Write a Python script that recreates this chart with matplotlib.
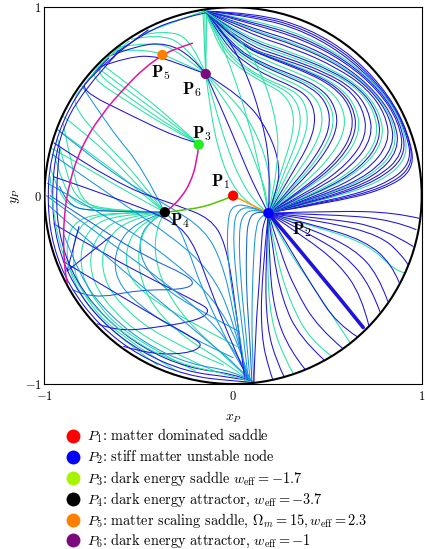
import matplotlib.pyplot as plt
from matplotlib.lines import Line2D
from matplotlib.patches import Circle, PathPatch
from matplotlib.path import Path

plt.rcParams['mathtext.fontset'] = 'cm'
plt.rcParams['font.family'] = 'serif'
plt.rcParams['font.serif'] = ['cmr10', 'DejaVu Serif']
plt.rcParams['axes.formatter.use_mathtext'] = True

# fixed points P1..P6 in compactified coordinates (x_P, y_P)
pt_x = [0.0, 0.187, -0.182, -0.362, -0.375, -0.145]
pt_y = [0.0, -0.093, 0.271, -0.088, 0.747, 0.646]
pt_colors = ['#ff0000', '#0000ff', '#22ee22', '#000000', '#ff8000', '#7d0a7d']
legend_colors = ['#ff0000', '#0000ff', '#a6f500', '#000000', '#ff8000', '#7d0a7d']
pt_names = [r'$\mathbf{P}_{\mathbf{%d}}$' % i for i in range(1, 7)]
label_offsets = [(-9, 10), (24, -12), (2, 8), (11, -6), (-1, -13), (-10, -11)]
legend_labels = [
    r'$P_1$: matter dominated saddle',
    r'$P_2$: stiff matter unstable node',
    r'$P_3$: dark energy saddle $w_{\mathrm{eff}} = -1.7$',
    r'$P_4$: dark energy attractor, $w_{\mathrm{eff}} = -3.7$',
    r'$P_5$: matter scaling saddle, $\Omega_m = 15, w_{\mathrm{eff}} = 2.3$',
    r'$P_6$: dark energy attractor, $w_{\mathrm{eff}} = -1$',
]

# special curves
magenta_outer = [(-0.216, 0.809), (-0.30, 0.782), (-0.375, 0.747), (-0.472, 0.676),
                 (-0.561, 0.588), (-0.702, 0.428), (-0.808, 0.252), (-0.870, 0.066),
                 (-0.897, -0.11), (-0.90, -0.287), (-0.888, -0.43), (-0.879, -0.464)]
magenta_inner = [(-0.182, 0.271), (-0.193, 0.172), (-0.228, 0.066), (-0.272, -0.005),
                 (-0.325, -0.061), (-0.362, -0.088)]
p4_to_p1 = [(-0.362, -0.088), (-0.228, -0.075), (-0.087, -0.040), (0.0, 0.0)]
p1_to_p2 = [(0.0, 0.0), (0.09, -0.045), (0.187, -0.093)]

# trajectories, grouped by region; colour codes b=blue, t=teal, c=cyan, m=mid blue
arcs = [
    [(0.19, -0.09), (0.5, -0.04), (0.8, 0.03), (0.965, 0.14), (0.93, 0.33), (0.83, 0.53), (0.64, 0.74), (0.40, 0.89), (0.12, 0.97), (-0.15, 0.98)],
    [(0.19, -0.09), (0.5, -0.035), (0.8, 0.04), (0.958, 0.155), (0.925, 0.34), (0.822, 0.53), (0.635, 0.73), (0.395, 0.88), (0.12, 0.96), (-0.15, 0.98)],
    [(0.19, -0.09), (0.5, -0.03), (0.79, 0.05), (0.95, 0.17), (0.915, 0.35), (0.815, 0.53), (0.63, 0.72), (0.39, 0.87), (0.12, 0.95), (-0.15, 0.98)],
    [(0.19, -0.09), (0.5, -0.02), (0.78, 0.07), (0.93, 0.2), (0.90, 0.38), (0.79, 0.56), (0.61, 0.72), (0.38, 0.85), (0.12, 0.93), (-0.15, 0.98)],
    [(0.19, -0.09), (0.5, -0.015), (0.77, 0.08), (0.918, 0.21), (0.89, 0.385), (0.78, 0.56), (0.603, 0.715), (0.375, 0.84), (0.115, 0.92), (-0.15, 0.98)],
    [(0.19, -0.09), (0.5, -0.01), (0.76, 0.09), (0.905, 0.22), (0.88, 0.39), (0.77, 0.56), (0.595, 0.71), (0.37, 0.83), (0.11, 0.91), (-0.15, 0.98)],
    [(0.19, -0.09), (0.5, 0.0), (0.75, 0.1), (0.88, 0.24), (0.86, 0.40), (0.75, 0.56), (0.58, 0.70), (0.36, 0.81), (0.10, 0.89), (-0.15, 0.98)],
    [(0.19, -0.09), (0.495, 0.002), (0.74, 0.108), (0.868, 0.25), (0.848, 0.408), (0.74, 0.563), (0.572, 0.695), (0.352, 0.80), (0.095, 0.882), (-0.15, 0.98)],
    [(0.19, -0.09), (0.49, 0.005), (0.73, 0.115), (0.855, 0.26), (0.835, 0.415), (0.73, 0.565), (0.565, 0.69), (0.345, 0.795), (0.09, 0.875), (-0.15, 0.98)],
    [(0.19, -0.09), (0.48, 0.01), (0.71, 0.13), (0.83, 0.28), (0.81, 0.43), (0.71, 0.57), (0.55, 0.68), (0.33, 0.78), (0.08, 0.86), (-0.15, 0.98)],
    [(0.19, -0.09), (0.465, 0.015), (0.685, 0.14), (0.80, 0.29), (0.78, 0.44), (0.685, 0.57), (0.53, 0.67), (0.315, 0.76), (0.07, 0.84), (-0.15, 0.98)],
    [(0.19, -0.09), (0.46, 0.017), (0.675, 0.145), (0.785, 0.295), (0.765, 0.445), (0.672, 0.57), (0.52, 0.665), (0.308, 0.75), (0.065, 0.83), (-0.15, 0.98)],
    [(0.19, -0.09), (0.45, 0.02), (0.66, 0.15), (0.77, 0.30), (0.75, 0.45), (0.66, 0.57), (0.51, 0.66), (0.30, 0.74), (0.06, 0.82), (-0.15, 0.98)],
    [(0.19, -0.09), (0.435, 0.025), (0.635, 0.16), (0.74, 0.31), (0.72, 0.455), (0.635, 0.57), (0.49, 0.655), (0.29, 0.73), (0.055, 0.805), (-0.15, 0.98)],
    [(0.19, -0.09), (0.42, 0.03), (0.61, 0.17), (0.71, 0.32), (0.69, 0.46), (0.61, 0.57), (0.47, 0.65), (0.28, 0.72), (0.05, 0.79), (-0.15, 0.98)],
    [(0.19, -0.09), (0.405, 0.04), (0.585, 0.185), (0.675, 0.335), (0.655, 0.47), (0.57, 0.575), (0.435, 0.65), (0.25, 0.72), (0.04, 0.795), (-0.15, 0.98)],
    [(0.19, -0.09), (0.398, 0.045), (0.572, 0.192), (0.657, 0.342), (0.637, 0.475), (0.55, 0.578), (0.418, 0.65), (0.235, 0.72), (0.035, 0.797), (-0.15, 0.98)],
    [(0.19, -0.09), (0.39, 0.05), (0.56, 0.20), (0.64, 0.35), (0.62, 0.48), (0.53, 0.58), (0.40, 0.65), (0.22, 0.72), (0.03, 0.80), (-0.15, 0.98)],
    [(0.19, -0.09), (0.375, 0.06), (0.53, 0.22), (0.60, 0.365), (0.575, 0.49), (0.49, 0.58), (0.36, 0.645), (0.19, 0.71), (0.015, 0.795), (-0.15, 0.98)],
    [(0.19, -0.09), (0.36, 0.07), (0.50, 0.24), (0.56, 0.38), (0.53, 0.50), (0.45, 0.58), (0.32, 0.64), (0.16, 0.70), (0.0, 0.79), (-0.15, 0.98)],
    [(0.19, -0.09), (0.35, 0.075), (0.485, 0.248), (0.54, 0.385), (0.51, 0.502), (0.428, 0.58), (0.30, 0.637), (0.145, 0.70), (-0.008, 0.792), (-0.15, 0.98)],
    [(0.19, -0.09), (0.34, 0.08), (0.47, 0.255), (0.52, 0.39), (0.49, 0.505), (0.405, 0.58), (0.28, 0.635), (0.13, 0.70), (-0.015, 0.795), (-0.15, 0.98)],
    [(0.19, -0.09), (0.32, 0.09), (0.44, 0.27), (0.48, 0.40), (0.45, 0.51), (0.36, 0.58), (0.24, 0.63), (0.10, 0.70), (-0.03, 0.80), (-0.15, 0.98)],
    [(0.19, -0.09), (0.305, 0.105), (0.41, 0.285), (0.44, 0.415), (0.405, 0.52), (0.315, 0.58), (0.195, 0.63), (0.07, 0.70), (-0.045, 0.805), (-0.15, 0.98)],
    [(0.19, -0.09), (0.29, 0.12), (0.38, 0.30), (0.40, 0.43), (0.36, 0.53), (0.27, 0.58), (0.15, 0.63), (0.04, 0.70), (-0.06, 0.81), (-0.15, 0.98)],
    [(0.19, -0.09), (0.275, 0.135), (0.35, 0.315), (0.36, 0.445), (0.31, 0.54), (0.215, 0.59), (0.105, 0.645), (0.0, 0.72), (-0.08, 0.83), (-0.15, 0.98)],
    [(0.19, -0.09), (0.26, 0.15), (0.32, 0.33), (0.32, 0.46), (0.26, 0.55), (0.16, 0.60), (0.06, 0.66), (-0.04, 0.74), (-0.10, 0.85), (-0.15, 0.98)],
]
arcs_colors = 'bbbtbbbtbbtbtbbtbbtbtbtbttt'

p6_fan = [
    [(-0.145, 0.646), (-0.12, 0.45), (-0.08, 0.25), (-0.02, 0.08), (0.08, -0.05), (0.187, -0.093)],
    [(-0.145, 0.646), (-0.09, 0.45), (-0.03, 0.25), (0.04, 0.08), (0.12, -0.04), (0.187, -0.093)],
    [(-0.145, 0.646), (-0.06, 0.46), (0.02, 0.27), (0.09, 0.10), (0.15, -0.02), (0.187, -0.093)],
    [(-0.145, 0.646), (-0.02, 0.48), (0.07, 0.30), (0.14, 0.12), (0.18, 0.0), (0.187, -0.093)],
    [(-0.145, 0.646), (0.02, 0.50), (0.13, 0.32), (0.19, 0.14), (0.20, 0.01), (0.187, -0.093)],
    [(-0.145, 0.646), (0.06, 0.52), (0.19, 0.34), (0.25, 0.16), (0.23, 0.02), (0.187, -0.093)],
    [(-0.15, 0.98), (-0.149, 0.82), (-0.145, 0.646)],
    [(-0.14, 0.985), (-0.142, 0.80), (-0.145, 0.646)],
    [(-0.16, 0.98), (-0.152, 0.80), (-0.145, 0.646)],
    [(-0.15, 0.98), (-0.08, 0.85), (0.0, 0.65), (0.08, 0.40), (0.14, 0.15), (0.187, -0.093)],
    [(-0.15, 0.98), (-0.05, 0.87), (0.06, 0.68), (0.15, 0.42), (0.20, 0.15), (0.187, -0.093)],
    [(-0.15, 0.98), (-0.02, 0.89), (0.12, 0.72), (0.22, 0.46), (0.25, 0.18), (0.187, -0.093)],
]
p6_fan_colors = 'ttbttbttttbt'

top_left = [
    [(-0.48, 0.86), (-0.35, 0.91), (-0.22, 0.955), (-0.15, 0.98)],
    [(-0.45, 0.87), (-0.32, 0.925), (-0.15, 0.98)],
    [(-0.62, 0.77), (-0.45, 0.78), (-0.30, 0.72), (-0.145, 0.646)],
    [(-0.60, 0.79), (-0.42, 0.82), (-0.28, 0.76), (-0.145, 0.646)],
    [(-0.54, 0.83), (-0.40, 0.86), (-0.25, 0.80), (-0.145, 0.646)],
    [(-0.50, 0.85), (-0.36, 0.88), (-0.22, 0.83), (-0.145, 0.646)],
    [(-0.72, 0.68), (-0.55, 0.74), (-0.40, 0.74), (-0.26, 0.69), (-0.145, 0.646)],
    [(-0.66, 0.74), (-0.50, 0.80), (-0.35, 0.81), (-0.22, 0.74), (-0.145, 0.646)],
    [(-0.62, 0.76), (-0.46, 0.87), (-0.30, 0.935), (-0.15, 0.97)],
]
top_left_colors = 'ttttttbbb'

to_p3 = [
    [(-0.55, 0.82), (-0.66, 0.74), (-0.74, 0.66), (-0.55, 0.52), (-0.35, 0.38), (-0.19, 0.28)],
    [(-0.72, 0.68), (-0.52, 0.53), (-0.33, 0.39), (-0.19, 0.28)],
    [(-0.60, 0.79), (-0.70, 0.70), (-0.76, 0.63), (-0.56, 0.50), (-0.36, 0.37), (-0.19, 0.28)],
    [(-0.70, 0.70), (-0.50, 0.55), (-0.32, 0.40), (-0.19, 0.28)],
    [(-0.66, 0.73), (-0.76, 0.63), (-0.81, 0.56), (-0.55, 0.43), (-0.30, 0.31), (-0.19, 0.28)],
]
to_p3_colors = 'ttttb'

to_p4 = [
    [(-0.93, 0.35), (-0.75, 0.22), (-0.55, 0.07), (-0.363, -0.088)],
    [(-0.70, 0.70), (-0.80, 0.58), (-0.86, 0.49), (-0.70, 0.30), (-0.52, 0.12), (-0.363, -0.088)],
    [(-0.96, 0.25), (-0.78, 0.15), (-0.58, 0.03), (-0.363, -0.088)],
    [(-0.80, 0.58), (-0.65, 0.35), (-0.48, 0.15), (-0.363, -0.088)],
    [(-0.90, 0.42), (-0.72, 0.28), (-0.55, 0.10), (-0.363, -0.088)],
    [(-0.93, 0.30), (-0.88, 0.10), (-0.82, -0.03), (-0.65, -0.08), (-0.363, -0.088)],
    [(-0.90, 0.38), (-0.85, 0.12), (-0.79, -0.05), (-0.62, -0.09), (-0.363, -0.088)],
    [(-0.97, 0.15), (-0.92, 0.0), (-0.84, -0.07), (-0.66, -0.085), (-0.363, -0.088)],
    [(-0.95, 0.22), (-0.90, 0.05), (-0.83, -0.05), (-0.64, -0.08), (-0.363, -0.088)],
    [(-0.40, -0.90), (-0.68, -0.70), (-0.86, -0.45), (-0.89, -0.25), (-0.83, -0.12), (-0.64, -0.09), (-0.363, -0.088)],
    [(-0.30, -0.93), (-0.62, -0.74), (-0.82, -0.50), (-0.86, -0.28), (-0.80, -0.13), (-0.62, -0.09), (-0.363, -0.088)],
    [(-0.20, -0.93), (-0.55, -0.76), (-0.77, -0.52), (-0.82, -0.32), (-0.76, -0.16), (-0.60, -0.10), (-0.363, -0.088)],
    [(-0.10, -0.93), (-0.45, -0.78), (-0.70, -0.55), (-0.77, -0.36), (-0.72, -0.20), (-0.58, -0.11), (-0.363, -0.088)],
    [(-0.05, -0.90), (-0.38, -0.76), (-0.62, -0.56), (-0.70, -0.40), (-0.68, -0.24), (-0.55, -0.12), (-0.363, -0.088)],
    [(0.0, -0.86), (-0.30, -0.72), (-0.54, -0.55), (-0.63, -0.42), (-0.62, -0.27), (-0.52, -0.14), (-0.363, -0.088)],
    [(0.02, -0.80), (-0.25, -0.66), (-0.46, -0.53), (-0.56, -0.42), (-0.57, -0.28), (-0.50, -0.15), (-0.363, -0.088)],
    [(0.03, -0.72), (-0.20, -0.60), (-0.38, -0.48), (-0.48, -0.36), (-0.50, -0.24), (-0.45, -0.14), (-0.363, -0.088)],
    [(-0.92, 0.05), (-0.88, -0.05), (-0.75, -0.085), (-0.363, -0.088)],
]
to_p4_colors = 'tttcttttttttttctcm'

lower_left = [
    [(-0.363, -0.088), (-0.44, -0.13), (-0.50, -0.25), (-0.50, -0.42), (-0.42, -0.60), (-0.25, -0.76), (-0.05, -0.88), (0.10, -0.99)],
    [(-0.363, -0.088), (-0.40, -0.15), (-0.42, -0.30), (-0.37, -0.48), (-0.25, -0.66), (-0.08, -0.82), (0.10, -0.99)],
    [(-0.363, -0.088), (-0.30, -0.14), (-0.24, -0.28), (-0.17, -0.48), (-0.06, -0.72), (0.05, -0.92), (0.10, -0.99)],
    [(-0.95, -0.15), (-0.70, -0.30), (-0.40, -0.46), (-0.18, -0.57), (-0.12, -0.61), (-0.18, -0.66), (-0.40, -0.70), (-0.62, -0.72), (-0.72, -0.68)],
    [(-0.90, -0.35), (-0.65, -0.50), (-0.40, -0.65), (-0.20, -0.76), (-0.16, -0.80), (-0.25, -0.84), (-0.45, -0.84), (-0.58, -0.80)],
    [(-0.97, 0.0), (-0.70, -0.18), (-0.45, -0.33), (-0.25, -0.42), (-0.20, -0.47), (-0.28, -0.50), (-0.50, -0.50), (-0.75, -0.55), (-0.85, -0.50)],
    [(-0.98, -0.05), (-0.70, -0.30), (-0.40, -0.55), (-0.15, -0.76), (0.02, -0.90), (0.10, -0.99)],
    [(-0.99, 0.0), (-0.65, -0.25), (-0.35, -0.47), (-0.12, -0.66), (0.03, -0.85), (0.10, -0.99)],
    [(-0.985, 0.066), (-0.58, -0.16), (-0.30, -0.36), (-0.10, -0.55), (0.03, -0.78), (0.09, -0.99)],
    [(-0.96, 0.22), (-0.62, -0.02), (-0.32, -0.22), (-0.12, -0.40), (0.0, -0.65), (0.08, -0.98)],
    [(-0.93, 0.35), (-0.65, 0.12), (-0.35, -0.05), (-0.15, -0.18), (-0.06, -0.35), (0.0, -0.60), (0.07, -0.97)],
    [(-0.95, 0.28), (-0.62, 0.06), (-0.30, -0.05), (-0.12, -0.12), (-0.04, -0.25), (0.01, -0.55), (0.06, -0.96)],
    [(-0.95, 0.10), (-0.60, -0.02), (-0.35, -0.12), (-0.22, -0.22), (-0.12, -0.50), (0.0, -0.80), (0.08, -0.98)],
    [(-0.88, -0.40), (-0.65, -0.217)],
    [(-0.88, -0.40), (-0.817, -0.164)],
    [(-0.45, 0.88), (-0.70, 0.70), (-0.87, 0.48), (-0.97, 0.20), (-0.985, -0.05), (-0.955, -0.27), (-0.87, -0.48), (-0.71, -0.69), (-0.50, -0.85), (-0.25, -0.955), (0.0, -0.985), (0.10, -0.99)],
    [(-0.60, 0.77), (-0.80, 0.56), (-0.93, 0.30), (-0.965, 0.0), (-0.935, -0.26), (-0.85, -0.47), (-0.70, -0.67), (-0.49, -0.83), (-0.25, -0.935), (0.0, -0.965), (0.10, -0.985)],
    [(-0.92, 0.25), (-0.945, 0.0), (-0.915, -0.25), (-0.83, -0.46), (-0.68, -0.65), (-0.48, -0.81), (-0.24, -0.915), (0.0, -0.945), (0.10, -0.985)],
    [(-0.90, -0.20), (-0.81, -0.44), (-0.66, -0.63), (-0.46, -0.79), (-0.23, -0.895), (0.0, -0.93), (0.10, -0.985)],
    [(-0.97, 0.10), (-0.95, -0.15), (-0.88, -0.38), (-0.75, -0.58), (-0.55, -0.76), (-0.30, -0.89), (0.0, -0.955), (0.10, -0.99)],
]
lower_left_colors = 'ttcbbmcccccbbbbbbbct'

p2_down = [
    [(0.187, -0.093), (0.10, -0.06), (0.03, -0.07), (0.00, -0.15), (0.01, -0.40), (0.05, -0.70), (0.08, -0.97)],
    [(0.187, -0.093), (0.11, -0.07), (0.05, -0.10), (0.03, -0.20), (0.04, -0.45), (0.07, -0.75), (0.09, -0.98)],
    [(0.187, -0.093), (0.12, -0.08), (0.08, -0.13), (0.07, -0.25), (0.07, -0.50), (0.09, -0.78), (0.10, -0.99)],
    [(0.187, -0.093), (0.14, -0.11), (0.12, -0.18), (0.11, -0.30), (0.10, -0.55), (0.10, -0.80), (0.11, -0.99)],
    [(0.187, -0.093), (0.16, -0.14), (0.15, -0.25), (0.14, -0.45), (0.12, -0.70), (0.11, -0.99)],
    [(0.187, -0.093), (0.08, -0.05), (0.0, -0.05), (-0.03, -0.12), (-0.03, -0.35), (0.02, -0.65), (0.07, -0.97)],
]
p2_down_colors = 'ccmcbc'

p2_right = [
    [(0.187, -0.093), (0.5, -0.12), (0.8, -0.17), (0.955, -0.27)],
    [(0.187, -0.093), (0.5, -0.14), (0.78, -0.21), (0.90, -0.32), (0.93, -0.37)],
    [(0.187, -0.093), (0.46, -0.17), (0.72, -0.26), (0.86, -0.40), (0.91, -0.41)],
    [(0.187, -0.093), (0.45, -0.16), (0.70, -0.24), (0.84, -0.36), (0.88, -0.46)],
    [(0.187, -0.093), (0.42, -0.18), (0.64, -0.28), (0.77, -0.42), (0.82, -0.56)],
    [(0.187, -0.093), (0.40, -0.20), (0.60, -0.32), (0.73, -0.48), (0.78, -0.62)],
    [(0.187, -0.093), (0.38, -0.22), (0.56, -0.36), (0.68, -0.53), (0.72, -0.69)],
    [(0.187, -0.093), (0.27, -0.26), (0.45, -0.52), (0.62, -0.78)],
    [(0.187, -0.093), (0.30, -0.28), (0.42, -0.48), (0.55, -0.68), (0.66, -0.75)],
    [(0.187, -0.093), (0.25, -0.30), (0.33, -0.50), (0.45, -0.70), (0.58, -0.81)],
    [(0.187, -0.093), (0.23, -0.33), (0.30, -0.56), (0.41, -0.77), (0.52, -0.85)],
    [(0.187, -0.093), (0.21, -0.30), (0.26, -0.55), (0.35, -0.75), (0.48, -0.87)],
    [(0.187, -0.093), (0.19, -0.35), (0.22, -0.62), (0.30, -0.82), (0.38, -0.92)],
    [(0.187, -0.093), (0.18, -0.38), (0.20, -0.66), (0.27, -0.86), (0.32, -0.945)],
    [(0.187, -0.093), (0.17, -0.40), (0.18, -0.70), (0.23, -0.88), (0.27, -0.96)],
    [(0.187, -0.093), (0.15, -0.45), (0.15, -0.75), (0.19, -0.92), (0.21, -0.975)],
    [(0.187, -0.093), (0.55, -0.10), (0.85, -0.13), (0.97, -0.18)],
    [(0.187, -0.093), (0.55, -0.08), (0.86, -0.09), (0.985, -0.12)],
]
p2_right_colors = 'bbtbbbbtbbtbbtbbbb'
p2_bundle = [(0.187, -0.093), (0.45, -0.40), (0.69, -0.70)]

palette = {'b': '#1d13dc', 't': '#25e3a5', 'c': '#1a95e0', 'm': '#1660dd'}


def smooth_path(pts):
    # quadratic B-spline through the waypoints, drawn by matplotlib as Bezier pieces
    if len(pts) < 3:
        return Path(pts)
    verts = [pts[0]]
    codes = [Path.MOVETO]
    for i in range(1, len(pts) - 2):
        mid = ((pts[i][0] + pts[i + 1][0]) / 2, (pts[i][1] + pts[i + 1][1]) / 2)
        verts += [pts[i], mid]
        codes += [Path.CURVE3, Path.CURVE3]
    verts += [pts[-2], pts[-1]]
    codes += [Path.CURVE3, Path.CURVE3]
    return Path(verts, codes)


fig = plt.figure(figsize=(4.25, 5.49), dpi=100)
ax = fig.add_axes([0.1047, 0.3005, 0.8875, 0.6862])
ax.set_xlim(-1, 1)
ax.set_ylim(-1, 1)

disk = Circle((0, 0), 1.0, transform=ax.transData, fill=False)


def draw_curve(pts, color, lw, zorder=1, clip=True):
    patch = PathPatch(smooth_path(pts), fill=False, edgecolor=color, lw=lw,
                      capstyle='round', joinstyle='round', zorder=zorder)
    ax.add_patch(patch)
    if clip:
        patch.set_clip_path(disk)


def draw_family(curves, codes, lw=0.75):
    for pts, code in zip(curves, codes):
        draw_curve(pts, palette[code], lw)


draw_family(arcs, arcs_colors)
draw_family(p6_fan, p6_fan_colors)
draw_family(top_left, top_left_colors)
draw_family(to_p3, to_p3_colors)
draw_family(to_p4, to_p4_colors)
draw_family(lower_left, lower_left_colors)
draw_family(p2_down, p2_down_colors)
draw_family(p2_right, p2_right_colors)
draw_family([p2_bundle], 'b', lw=2.6)

ax.add_patch(Circle((0, 0), 1.0, fill=False, color='black', lw=1.5, zorder=2))

for pts, col in [(magenta_outer, '#e0159f'), (magenta_inner, '#e0159f'),
                 (p4_to_p1, '#52c400'), (p1_to_p2, '#ff9a00')]:
    draw_curve(pts, col, 1.1, zorder=3, clip=False)

ax.scatter(pt_x, pt_y, s=55, c=pt_colors, zorder=4, linewidths=0)
for x, y, name, off in zip(pt_x, pt_y, pt_names, label_offsets):
    ax.annotate(name, (x, y), xytext=off, textcoords='offset points',
                ha='center', va='center', fontsize=12, zorder=5)

ax.set_xticks([-1, 0, 1])
ax.set_yticks([-1, 0, 1])
ax.set_xticklabels(['$-1$', '$0$', '$1$'])
ax.set_yticklabels(['$-1$', '$0$', '$1$'])
ax.tick_params(length=0, labelsize=9, pad=4)
ax.tick_params(axis='y', pad=2)
ax.set_xlabel('$x_P$', fontsize=10, labelpad=7)
ax.set_ylabel('$y_P$', fontsize=10, labelpad=2)
for sp in ax.spines.values():
    sp.set_linewidth(0.8)

handles = [Line2D([], [], ls='', marker='o', markersize=10, color=c, markeredgewidth=0)
           for c in legend_colors]
fig.legend(handles, legend_labels, loc='upper left', bbox_to_anchor=(0.155, 0.2225),
           frameon=False, fontsize=10.3, handlelength=1.0, handletextpad=0.45,
           labelspacing=0.19, borderpad=0, borderaxespad=0)

fig.savefig('out.png', dpi=100)
